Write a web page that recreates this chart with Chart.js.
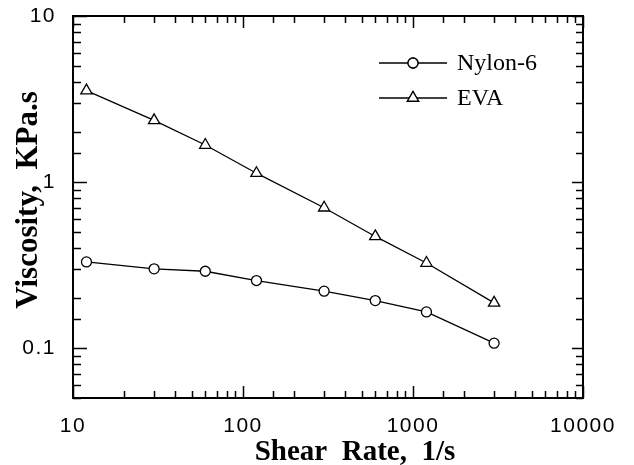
<!DOCTYPE html>
<html>
<head>
<meta charset="utf-8">
<script src="https://cdn.jsdelivr.net/npm/chart.js@4/dist/chart.umd.min.js"></script>
<style>
	html, body { margin: 0; padding: 0; background: #fff; }
	#wrap { width: 634px; height: 465px; position: relative; }
</style>
</head>
<body>
<div id="wrap"><canvas id="c"></canvas></div>
<script>
// Viscosity vs shear rate, log-log, two polymers.
const shearRate = [12, 30, 60, 120, 300, 600, 1200, 3000];
const nylonVisc = [0.33, 0.30, 0.29, 0.255, 0.22, 0.193, 0.165, 0.107];
const evaVisc = [3.55, 2.35, 1.67, 1.13, 0.70, 0.47, 0.325, 0.187];
const seriesNames = ['Nylon-6', 'EVA'];
const xTitle = 'Shear  Rate,  1/s';
const yTitle = 'Viscosity,  KPa.s';

const INK = '#000';
const SERIF = '"Liberation Serif", "Times New Roman", serif';
const SANS = '"Liberation Sans", Arial, sans-serif';

function isDecade(v) {
	const l = Math.log10(v);
	return Math.abs(l - Math.round(l)) < 1e-6;
}

function decadeLabel(v) {
	return isDecade(v) ? String(Number(Number(v).toPrecision(3))) : '';
}

// The scanned figure has loosely spaced digits; widen the tick labels a bit.
const spacedText = {
	id: 'spacedText',
	beforeDraw(chart) {
		chart.ctx.letterSpacing = '1.5px';
	},
};

// Frame with inward ticks on all four sides, axis titles and the legend,
// placed relative to the chart area as in the printed figure.
const frameTicks = {
	id: 'frameTicks',
	afterDraw(chart) {
		const { ctx, chartArea: a, scales } = chart;
		ctx.save();
		ctx.letterSpacing = '0px';
		ctx.strokeStyle = INK;
		ctx.lineWidth = 1.5;
		for (const t of scales.x.ticks) {
			const px = Math.round(scales.x.getPixelForValue(t.value)) + 0.5;
			const len = isDecade(t.value) ? 12 : 7;
			ctx.beginPath();
			ctx.moveTo(px, a.bottom);
			ctx.lineTo(px, a.bottom - len);
			ctx.moveTo(px, a.top);
			ctx.lineTo(px, a.top + len);
			ctx.stroke();
		}
		for (const t of scales.y.ticks) {
			const py = Math.round(scales.y.getPixelForValue(t.value)) + 0.5;
			const major = isDecade(t.value);
			ctx.beginPath();
			ctx.moveTo(a.left, py);
			ctx.lineTo(a.left + (major ? 14 : 8), py);
			ctx.moveTo(a.right, py);
			ctx.lineTo(a.right - (major ? 11 : 7), py);
			ctx.stroke();
		}
		ctx.lineWidth = 2;
		ctx.strokeRect(a.left, a.top, a.right - a.left, a.bottom - a.top);

		// Axis titles.
		ctx.fillStyle = INK;
		ctx.textAlign = 'center';
		ctx.textBaseline = 'alphabetic';
		ctx.font = 'bold 29px ' + SERIF;
		ctx.fillText(xTitle, a.left + 282, a.bottom + 62);
		ctx.save();
		ctx.translate(a.left - 36, a.top + 184);
		ctx.rotate(-Math.PI / 2);
		ctx.font = 'bold 31px ' + SERIF;
		ctx.fillText(yTitle, 0, 0);
		ctx.restore();

		// Legend: line - marker - line, then the name.
		const ds = chart.data.datasets;
		const x0 = a.left + 306;
		const y0 = a.top + 47;
		ctx.font = '24px ' + SERIF;
		ctx.textAlign = 'left';
		ctx.textBaseline = 'middle';
		ds.forEach((d, i) => {
			const y = y0 + i * 35;
			ctx.lineWidth = 1.3;
			ctx.beginPath();
			ctx.moveTo(x0, y);
			ctx.lineTo(x0 + 68, y);
			ctx.stroke();
			Chart.helpers.drawPoint(ctx, {
				pointStyle: d.pointStyle,
				radius: d.pointRadius,
				borderWidth: 1.3,
				rotation: 0,
			}, x0 + 34, y);
			ctx.fillStyle = '#fff';
			ctx.fill();
			ctx.stroke();
			ctx.fillStyle = INK;
			ctx.fillText(d.label, x0 + 78, y + 1);
		});
		ctx.restore();
	},
};

function series(label, values, style) {
	return {
		label,
		data: shearRate.map((x, i) => ({ x, y: values[i] })),
		borderColor: INK,
		borderWidth: 1.3,
		pointStyle: style,
		pointRadius: style === 'triangle' ? 6.5 : 5,
		pointBorderWidth: 1.3,
		pointBackgroundColor: '#fff',
		pointBorderColor: INK,
		tension: 0,
	};
}

new Chart(document.getElementById('c'), {
	type: 'line',
	data: {
		datasets: [
			series(seriesNames[0], nylonVisc, 'circle'),
			series(seriesNames[1], evaVisc, 'triangle'),
		],
	},
	options: {
		responsive: true,
		maintainAspectRatio: false,
		animation: false,
		layout: { padding: { top: 16, right: 51, left: 0, bottom: 0 } },
		plugins: { legend: { display: false }, tooltip: { enabled: false } },
		scales: {
			x: {
				type: 'logarithmic',
				min: 10,
				max: 10000,
				grid: { display: false },
				border: { display: false },
				afterFit: (s) => { s.height = 67; },
				ticks: {
					autoSkip: false,
					maxRotation: 0,
					padding: 8,
					color: INK,
					font: { family: SANS, size: 21 },
					callback: decadeLabel,
				},
			},
			y: {
				type: 'logarithmic',
				min: 0.05,
				max: 10,
				grid: { display: false },
				border: { display: false },
				afterFit: (s) => {
					s.width = 73;
					s.paddingTop = 0;
					s.paddingBottom = 0;
				},
				ticks: {
					autoSkip: false,
					padding: 9,
					color: INK,
					font: { family: SANS, size: 21 },
					callback: decadeLabel,
				},
			},
		},
	},
	plugins: [spacedText, frameTicks],
});
</script>
</body>
</html>
